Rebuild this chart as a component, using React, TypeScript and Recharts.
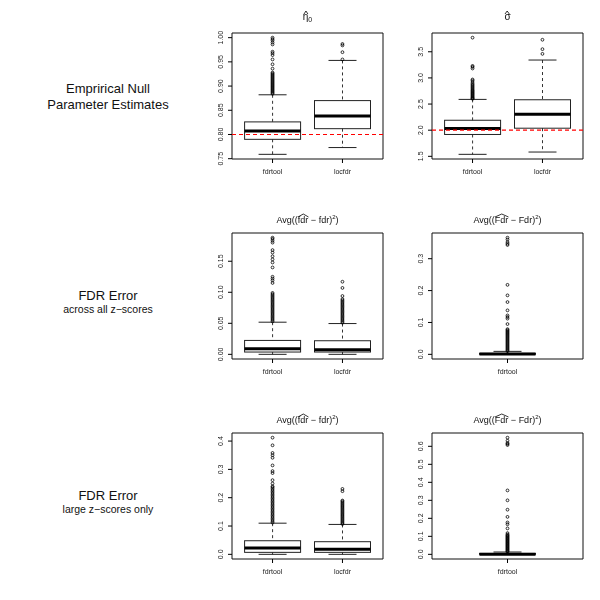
import React from 'react';
import { ComposedChart, Bar, Scatter, XAxis, YAxis, ReferenceLine, ReferenceArea } from 'recharts';

const METHODS = ['fdrtool', 'locfdr'];

// box stats: [lower whisker, q1, median, q3, upper whisker]
const ETA_FDRTOOL = [0.759, 0.790, 0.807, 0.826, 0.882];
const ETA_LOCFDR = [0.773, 0.812, 0.838, 0.870, 0.953];
const ETA_OUT_FDRTOOL = [0.884, 0.886, 0.888, 0.890, 0.892, 0.894, 0.896, 0.898, 0.900, 0.902, 0.904, 0.906, 0.908, 0.910, 0.912, 0.914, 0.916, 0.918, 0.920, 0.922, 0.924, 0.926, 0.928, 0.936, 0.945, 0.955, 0.964, 0.968, 0.971, 0.986, 0.990, 0.994, 0.997, 1.0];
const ETA_OUT_LOCFDR = [0.955, 0.970, 0.984, 0.987];
const ETA_TICKS = ['0.75', '0.80', '0.85', '0.90', '0.95', '1.00'];

const SIG_FDRTOOL = [1.538, 1.918, 2.032, 2.19, 2.589];
const SIG_LOCFDR = [1.582, 2.038, 2.304, 2.582, 3.342];
const SIG_OUT_FDRTOOL = [2.60, 2.61, 2.62, 2.635, 2.65, 2.665, 2.68, 2.695, 2.71, 2.725, 2.74, 2.755, 2.77, 2.79, 2.81, 2.83, 2.85, 2.87, 2.89, 2.92, 2.95, 2.97, 3.18, 3.21, 3.23, 3.77];
const SIG_OUT_LOCFDR = [3.46, 3.55, 3.73];
const SIG_TICKS = ['1.5', '2.0', '2.5', '3.0', '3.5'];

const FDR_ALL_FDRTOOL = [0, 0.0037, 0.009, 0.0224, 0.0518];
const FDR_ALL_LOCFDR = [0, 0.0037, 0.0075, 0.0219, 0.0496];
const FDR_ALL_OUT_FDRTOOL = [0.053, 0.055, 0.057, 0.059, 0.061, 0.063, 0.065, 0.067, 0.069, 0.071, 0.073, 0.075, 0.077, 0.079, 0.081, 0.083, 0.085, 0.087, 0.089, 0.091, 0.093, 0.095, 0.097, 0.099, 0.115, 0.119, 0.122, 0.125, 0.140, 0.148, 0.153, 0.158, 0.164, 0.168, 0.180, 0.183, 0.186, 0.188];
const FDR_ALL_OUT_LOCFDR = [0.051, 0.053, 0.055, 0.057, 0.059, 0.061, 0.063, 0.065, 0.067, 0.069, 0.071, 0.073, 0.075, 0.077, 0.079, 0.081, 0.083, 0.085, 0.087, 0.089, 0.094, 0.107, 0.117];
const FDR_ALL_TICKS = ['0.00', '0.05', '0.10', '0.15'];

const CFDR_ALL_FDRTOOL = [0, 0.0002, 0.0008, 0.003, 0.0093];
const CFDR_ALL_OUT = [0.010, 0.013, 0.016, 0.019, 0.022, 0.025, 0.028, 0.031, 0.034, 0.037, 0.040, 0.043, 0.046, 0.049, 0.052, 0.055, 0.058, 0.061, 0.064, 0.067, 0.070, 0.073, 0.076, 0.079, 0.095, 0.112, 0.117, 0.122, 0.138, 0.164, 0.185, 0.218, 0.343, 0.347, 0.352, 0.360, 0.366];
const CFDR_ALL_TICKS = ['0.0', '0.1', '0.2', '0.3'];

const FDR_LG_FDRTOOL = [0, 0.007, 0.0223, 0.048, 0.110];
const FDR_LG_LOCFDR = [0, 0.007, 0.0176, 0.0446, 0.1056];
const FDR_LG_OUT_FDRTOOL = [0.112, 0.117, 0.122, 0.127, 0.132, 0.137, 0.142, 0.147, 0.152, 0.157, 0.162, 0.167, 0.172, 0.177, 0.182, 0.187, 0.192, 0.197, 0.202, 0.207, 0.212, 0.217, 0.222, 0.227, 0.232, 0.237, 0.240, 0.250, 0.262, 0.287, 0.294, 0.314, 0.341, 0.350, 0.358, 0.385, 0.412];
const FDR_LG_OUT_LOCFDR = [0.107, 0.111, 0.115, 0.119, 0.123, 0.127, 0.131, 0.135, 0.139, 0.143, 0.147, 0.151, 0.155, 0.159, 0.163, 0.167, 0.171, 0.175, 0.179, 0.183, 0.187, 0.190, 0.223, 0.231];
const FDR_LG_TICKS = ['0.0', '0.1', '0.2', '0.3', '0.4'];

const CFDR_LG_FDRTOOL = [0, 0.0002, 0.001, 0.005, 0.0129];
const CFDR_LG_OUT = [0.014, 0.018, 0.022, 0.026, 0.030, 0.034, 0.038, 0.042, 0.046, 0.050, 0.054, 0.058, 0.062, 0.066, 0.070, 0.074, 0.078, 0.082, 0.086, 0.090, 0.094, 0.098, 0.102, 0.106, 0.110, 0.118, 0.144, 0.167, 0.177, 0.208, 0.248, 0.300, 0.355, 0.607, 0.613, 0.618, 0.631, 0.648];
const CFDR_LG_TICKS = ['0.0', '0.1', '0.2', '0.3', '0.4', '0.5', '0.6'];

const FONT = '"Liberation Sans", Arial, Helvetica, sans-serif';
const INK = '#222';

const Hat = ({ children, wide, top = 0 }: any) => (
  <span style={{ position: 'relative', display: 'inline-block' }}>
    {children}
    <svg
      style={{ position: 'absolute', left: wide ? 0 : '15%', top, width: wide ? '100%' : '70%', height: 3, overflow: 'visible' }}
      viewBox="0 0 10 3"
      preserveAspectRatio="none"
    >
      <polyline points="0,3 5,0 10,3" fill="none" stroke="#000" strokeWidth={0.8} vectorEffect="non-scaling-stroke" />
    </svg>
  </span>
);

const AvgTitle = ({ name }: { name: string }) => (
  <span>
    Avg((<Hat wide>{name}</Hat> − {name})<sup style={{ fontSize: 6, verticalAlign: 4 }}>2</sup>)
  </span>
);

// range value for the bar: whisker to whisker (other entries, e.g. scatter points, give nothing)
const boxRange = (d: any) => (d && d.s ? [d.s[0], d.s[4]] : undefined);

const BoxShape = (props: any) => {
  const { x, y, width, height, payload } = props;
  if (!payload || !payload.s) return <g />;
  const [lo, q1, med, q3, hi] = payload.s;
  const top = Math.min(y, y + height);
  const h = Math.abs(height);
  const py = (v: number) => (hi === lo ? top : top + ((hi - v) / (hi - lo)) * h);
  const cx = x + width / 2;
  const cap = width / 4;
  return (
    <g>
      <line x1={cx} x2={cx} y1={py(hi)} y2={py(q3)} stroke="#333" strokeDasharray="3 3" />
      <line x1={cx} x2={cx} y1={py(q1)} y2={py(lo)} stroke="#333" strokeDasharray="3 3" />
      <line x1={cx - cap} x2={cx + cap} y1={py(hi)} y2={py(hi)} stroke="#222" />
      <line x1={cx - cap} x2={cx + cap} y1={py(lo)} y2={py(lo)} stroke="#222" />
      <rect x={x} y={py(q3)} width={width} height={Math.max(py(q1) - py(q3), 0.5)} fill="none" stroke="#222" />
      <line x1={x} x2={x + width} y1={py(med)} y2={py(med)} stroke="#000" strokeWidth={3} />
    </g>
  );
};

const OutlierDot = (props: any) => (
  <circle cx={props.cx} cy={props.cy} r={1.4} fill="none" stroke="#000" strokeWidth={0.8} />
);

const makeYTick = (labels: string[]) => (props: any) => {
  const { x, y, payload } = props;
  const label = labels.find((l) => Number(l) === payload.value) ?? String(payload.value);
  return (
    <g transform={`translate(${x - 5},${y})`}>
      <text transform="rotate(-90)" textAnchor="middle" dy="0.35em" fontSize={7} fill={INK} fontFamily={FONT}>
        {label}
      </text>
    </g>
  );
};

const XTick = (props: any) => {
  const { x, y, payload } = props;
  return (
    <text x={x} y={y} dy="0.71em" textAnchor="middle" fontSize={7} fill={INK} fontFamily={FONT}>
      {METHODS[payload.value - 1] ?? ''}
    </text>
  );
};

interface PanelProps {
  left: number;
  top: number;
  title: React.ReactNode;
  stats: number[][];
  outliers: number[][];
  ticks: string[];
  refY?: number;
}

const Panel = ({ left, top, title, stats, outliers, ticks, refY }: PanelProps) => {
  const n = stats.length;
  const all = stats.flat().concat(outliers.flat());
  const dmin = Math.min(...all);
  const dmax = Math.max(...all);
  const ylo = dmin - 0.04 * (dmax - dmin);
  const yhi = dmax + 0.04 * (dmax - dmin);
  const xlo = 0.5 - 0.04 * n;
  const xhi = n + 0.5 + 0.04 * n;
  const data = stats.map((s, i) => ({ x: i + 1, s }));
  const xticks = stats.map((_, i) => i + 1);

  return (
    <div style={{ position: 'absolute', left, top, width: 200, height: 200, willChange: 'transform' }}>
      <div
        style={{
          position: 'absolute', left: 32, width: 151, top: 11, lineHeight: '12px',
          fontSize: 9, textAlign: 'center', fontFamily: FONT, color: '#111', whiteSpace: 'nowrap',
        }}
      >
        {title}
      </div>
      <ComposedChart width={200} height={200} data={data} margin={{ top: 33, right: 17, bottom: 11, left: 0 }}>
        <XAxis
          type="number"
          dataKey="x"
          domain={[xlo, xhi]}
          allowDataOverflow
          ticks={xticks}
          interval={0}
          axisLine={false}
          tickLine={{ stroke: '#000' }}
          tickSize={4}
          tickMargin={6}
          height={30}
          tick={XTick}
        />
        <YAxis
          type="number"
          domain={[ylo, yhi]}
          allowDataOverflow
          ticks={ticks.map(Number)}
          interval={0}
          width={32}
          axisLine={false}
          tickLine={{ stroke: '#000' }}
          tickSize={4}
          tick={makeYTick(ticks)}
        />
        <ReferenceArea x1={xlo} x2={xhi} y1={ylo} y2={yhi} fill="none" stroke="#111" strokeWidth={1} />
        <Bar dataKey={boxRange} barSize={56} shape={BoxShape} isAnimationActive={false} />
        {outliers.map((o, i) => (
          <Scatter
            key={i}
            data={o.map((v) => ({ x: i + 1, y: v }))}
            dataKey="y"
            shape={OutlierDot}
            isAnimationActive={false}
          />
        ))}
        {refY !== undefined && (
          <ReferenceLine y={refY} stroke="#ff0000" strokeDasharray="4 3" strokeWidth={1.2} />
        )}
      </ComposedChart>
    </div>
  );
};

const RowLabel = ({ lines, top }: { lines: { t: string; big: boolean; y: number }[]; top: number }) => (
  <>
    {lines.map((l, i) => (
      <text key={i} x={108} y={top + l.y} textAnchor="middle" fontSize={l.big ? 13 : 10.5} fill="#111" fontFamily={FONT}>
        {l.t}
      </text>
    ))}
  </>
);

export default function App() {
  return (
    <div style={{ position: 'absolute', left: 0, top: 0, width: 600, height: 600, background: '#fff', fontFamily: FONT }}>
      <svg width={200} height={600} style={{ position: 'absolute', left: 0, top: 0 }}>
        <RowLabel top={0} lines={[{ t: 'Emprirical Null', big: true, y: 93 }, { t: 'Parameter Estimates', big: true, y: 108.5 }]} />
        <RowLabel top={200} lines={[{ t: 'FDR Error', big: true, y: 100 }, { t: 'across all z−scores', big: false, y: 113 }]} />
        <RowLabel top={400} lines={[{ t: 'FDR Error', big: true, y: 100 }, { t: 'large z−scores only', big: false, y: 113 }]} />
      </svg>

      <Panel
        left={200}
        top={0}
        title={<span style={{ fontSize: 10 }}><Hat top={0}>η</Hat><sub style={{ fontSize: 7, verticalAlign: -2 }}>0</sub></span>}
        stats={[ETA_FDRTOOL, ETA_LOCFDR]}
        outliers={[ETA_OUT_FDRTOOL, ETA_OUT_LOCFDR]}
        ticks={ETA_TICKS}
        refY={0.8}
      />
      <Panel
        left={400}
        top={0}
        title={<span style={{ fontSize: 10 }}><Hat top={0}>σ</Hat></span>}
        stats={[SIG_FDRTOOL, SIG_LOCFDR]}
        outliers={[SIG_OUT_FDRTOOL, SIG_OUT_LOCFDR]}
        ticks={SIG_TICKS}
        refY={2.0}
      />
      <Panel
        left={200}
        top={200}
        title={<AvgTitle name="fdr" />}
        stats={[FDR_ALL_FDRTOOL, FDR_ALL_LOCFDR]}
        outliers={[FDR_ALL_OUT_FDRTOOL, FDR_ALL_OUT_LOCFDR]}
        ticks={FDR_ALL_TICKS}
      />
      <Panel
        left={400}
        top={200}
        title={<AvgTitle name="Fdr" />}
        stats={[CFDR_ALL_FDRTOOL]}
        outliers={[CFDR_ALL_OUT]}
        ticks={CFDR_ALL_TICKS}
      />
      <Panel
        left={200}
        top={400}
        title={<AvgTitle name="fdr" />}
        stats={[FDR_LG_FDRTOOL, FDR_LG_LOCFDR]}
        outliers={[FDR_LG_OUT_FDRTOOL, FDR_LG_OUT_LOCFDR]}
        ticks={FDR_LG_TICKS}
      />
      <Panel
        left={400}
        top={400}
        title={<AvgTitle name="Fdr" />}
        stats={[CFDR_LG_FDRTOOL]}
        outliers={[CFDR_LG_OUT]}
        ticks={CFDR_LG_TICKS}
      />
    </div>
  );
}
